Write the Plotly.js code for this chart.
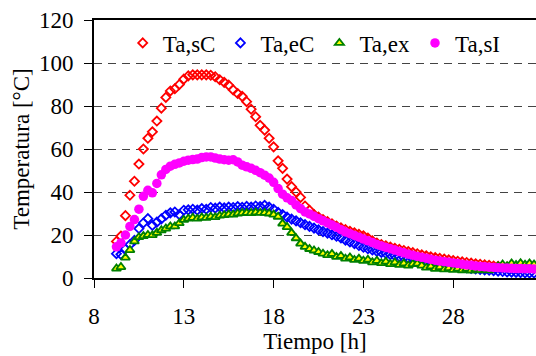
<!DOCTYPE html>
<html>
<head>
<meta charset="utf-8">
<script src="https://cdn.plot.ly/plotly-3.0.1.min.js"></script>
<style>html,body{margin:0;padding:0;background:#fff;}#chart{width:536px;height:356px;}</style>
</head>
<body>
<div id="chart"></div>
<script>
const tiempo = [9.25,9.5,9.75,10,10.25,10.5,10.75,11,11.25,11.5,11.75,12,12.25,12.5,12.75,13,13.25,13.5,13.75,14,14.25,14.5,14.75,15,15.25,15.5,15.75,16,16.25,16.5,16.75,17,17.25,17.5,17.75,18,18.25,18.5,18.75,19,19.25,19.5,19.75,20,20.25,20.5,20.75,21,21.25,21.5,21.75,22,22.25,22.5,22.75,23,23.25,23.5,23.75,24,24.25,24.5,24.75,25,25.25,25.5,25.75,26,26.25,26.5,26.75,27,27.25,27.5,27.75,28,28.25,28.5,28.75,29,29.25,29.5,29.75,30,30.25,30.5,30.75,31,31.25,31.5,31.75,32,32.25,32.5];

const TaSC = [17,19.5,29,38.5,45,53,60,65,68,73,79,84,87,88,90,92.5,94,94.5,94.5,94.5,94.5,94.3,93.6,92.2,91,89.7,87.5,85.8,84.5,82,78.5,75,71,68.8,65,61,54.5,51,46,42.5,40,37.5,33.5,31.5,29.5,28.3,27.2,26.2,25.2,24.2,23.3,22.5,21.7,21,20.3,19.6,18.6,17.3,16.3,15.6,15,14.4,13.8,13.3,12.8,12.3,11.8,11.3,10.8,10.3,9.9,9.5,9.1,8.8,8.4,8.1,7.8,7.5,7.2,6.9,6.6,6.4,6.1,5.9,5.6,5.4,5.2,5.1,4.9,4.8,4.7,4.6,4.5,4.4];

const TaEC = [11.3,11,13.5,15.5,17.5,23,25.6,27.6,24.5,26,27.5,29.2,30.3,30.7,29.5,31.5,31.7,32,31.6,32.3,32,32.8,32.5,33,32.6,33,32.8,33.2,32.9,33.3,33,33.5,33.2,33.8,33,32,30.5,29.5,28.3,27.4,26.6,25.7,24.8,24,23.2,22.4,21.6,20.9,20.1,19.4,18.6,17.6,16.8,16,15.1,14.3,13.6,13,12.4,11.9,11.4,10.9,10.3,9.9,9.5,9.2,8.9,8.5,8.1,7.7,7.3,7,6.7,6.4,6,5.7,5.4,5.1,4.8,4.5,4.2,4,3.8,3.6,3.4,3.2,3,2.8,2.7,2.6,2.5,2.4,2.3,2.3];

const TaEx = [4.4,5.1,9.5,13,17,19,19.5,20,19.9,21,22.2,23,24,24,25.5,27,27.6,28,27.6,28.2,28,28.5,28.3,29,29.2,29.6,29.5,30,30.2,30.3,30.2,30.5,30.3,30.3,30,29.5,28.5,25.3,23.7,21,18.5,16,14.5,13.5,12.8,12.1,11.3,10.6,11.2,9.8,10.3,9,9.6,8.4,9,8,8.5,7.3,8,6.9,7.6,6.5,7.2,6.1,6.8,5.8,6.5,6.7,5.8,4.8,5.4,4.2,5,4,4.6,3.8,4.3,3.6,4.2,3.5,4.1,3.6,4,3.6,4.5,5.5,6.3,5.5,6.8,6,6.9,6.2,6.8,6.3];

const TaSI = [14.5,16.3,20,24,27.2,32,38,40.8,39.6,44,48,50.5,52,52.9,53.5,54.3,54.8,55.1,55.3,56,56.3,56.3,55.8,55.3,55,54.8,55,54,52.5,51.7,51,50.1,49,47.8,46.5,44.5,41.6,39,37.3,36,34,32.3,30.7,29.8,28.7,27.6,26.6,25.6,24.6,23.6,22.5,21.4,20.6,19.8,19,18.1,17.3,16.5,15.6,14.9,14.2,13.6,13,12.3,11.7,11.1,10.6,10,9.6,9.2,8.7,8.3,7.9,7.6,7.3,7,6.7,6.4,6.1,5.9,5.6,5.4,5.2,5,4.9,4.8,4.7,4.6,4.5,4.4,4.4,4.3,4.3,4.2];

const xTicks = [8,13,18,23,28];
const yTicks = [0,20,40,60,80,100,120];
const names = ['Ta,sC','Ta,eC','Ta,ex','Ta,sI'];

const FONT = 'Liberation Serif';
const FS = 23;

const traces = [
  {x: tiempo, y: TaSC, name: names[0], mode: 'markers', type: 'scatter',
   marker: {symbol: 'diamond-open', size: 7, color: '#ff0000', line: {width: 1.8, color: '#ff0000'}}},
  {x: tiempo, y: TaEC, name: names[1], mode: 'markers', type: 'scatter',
   marker: {symbol: 'diamond-open', size: 7, color: '#0000ff', line: {width: 1.8, color: '#0000ff'}}},
  {x: tiempo, y: TaEx, name: names[2], mode: 'markers', type: 'scatter',
   marker: {symbol: 'triangle-up', size: 8, color: '#ffff00', line: {width: 1.8, color: '#008000'}}},
  {x: tiempo, y: TaSI, name: names[3], mode: 'markers', type: 'scatter',
   marker: {symbol: 'circle', size: 9.5, color: '#ff00ff', line: {width: 0}}}
];

const layout = {
  width: 536, height: 356,
  margin: {l: 94, r: 0, t: 20, b: 78},
  paper_bgcolor: '#fff', plot_bgcolor: '#fff',
  font: {family: FONT, size: FS, color: '#000'},
  showlegend: true,
  legend: {orientation: 'h', x: 0.065, y: 0.911, xanchor: 'left', yanchor: 'middle',
           bgcolor: 'rgba(255,255,255,0)', font: {family: FONT, size: FS, color: '#000'},
           itemwidth: 30, tracegroupgap: 0},
  xaxis: {
    range: [8, 32.61], tickvals: xTicks, ticktext: xTicks.map(String),
    ticks: 'outside', ticklen: 8, tickwidth: 1, tickcolor: '#000',
    showline: true, linecolor: '#000', linewidth: 2, mirror: true,
    showgrid: false, zeroline: false, ticklabelstandoff: 8,
    tickfont: {family: FONT, size: FS, color: '#000'},
    title: {text: 'Tiempo [h]', font: {family: FONT, size: FS, color: '#000'}, standoff: 0}
  },
  yaxis: {
    range: [0, 120], tickvals: yTicks, ticktext: yTicks.map(String),
    ticks: 'outside', ticklen: 8, tickwidth: 1, tickcolor: '#000',
    showline: true, linecolor: '#000', linewidth: 2,
    showgrid: true, gridcolor: '#444', gridwidth: 1, griddash: '8px,6px',
    zeroline: false, ticklabelstandoff: 6,
    tickfont: {family: FONT, size: FS, color: '#000'},
    title: {text: 'Temperatura [°C]', font: {family: FONT, size: FS, color: '#000'}, standoff: 3}
  }
};

Plotly.newPlot('chart', traces, layout, {displayModeBar: false, staticPlot: true});
</script>
</body>
</html>
